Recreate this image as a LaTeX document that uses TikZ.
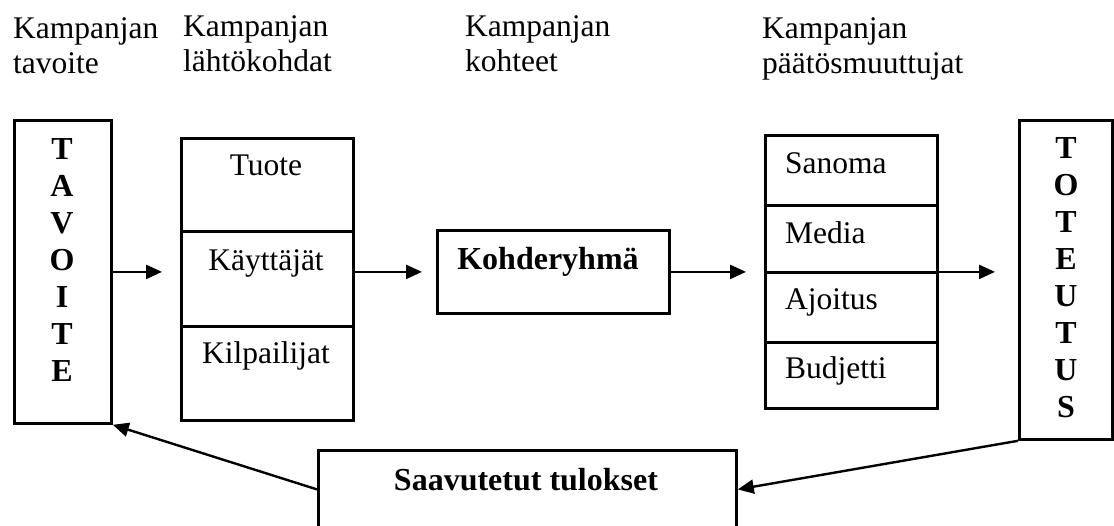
\documentclass[tikz,border=0pt]{standalone}
\usepackage{fontspec}
\setmainfont{Liberation Serif}
\usetikzlibrary{arrows.meta}
\begin{document}
\begin{tikzpicture}[x=1pt,y=-1pt,
  box/.style={draw, line width=2.8pt, inner sep=0pt, anchor=north west},
  txt/.style={inner sep=0pt, anchor=base, font=\fontsize{31.5}{36}\selectfont},
  ltxt/.style={txt, anchor=base west},
  btxt/.style={inner sep=0pt, anchor=base, font=\fontsize{32}{37}\selectfont\bfseries},
  arr/.style={line width=2.4pt, -{Triangle[length=16pt,width=14pt]}}]
\clip (0,0) rectangle (1114,525);
\fill[white] (0,0) rectangle (1114,525);

% column headings
\node[ltxt] (h1a) at (13,38) {Kampanjan};
\node[ltxt] (h1b) at (13,73) {tavoite};
\node[ltxt] (h2a) at (183,36) {Kampanjan};
\node[ltxt] (h2b) at (183,71) {lähtökohdat};
\node[ltxt] (h3a) at (465,36) {Kampanjan};
\node[ltxt] (h3b) at (465,71) {kohteet};
\node[ltxt] (h4a) at (762,38) {Kampanjan};
\node[ltxt] (h4b) at (762,73) {päätösmuuttujat};

% goal column
\node[box, minimum width=97pt, minimum height=303pt] (tavoite) at (13,119) {};
\foreach \l [count=\i from 0] in {T,A,V,O,I,T,E}
  \node[btxt] (tav\i) at (62,159+37*\i) {\l};

% starting points
\node[box, minimum width=172pt, minimum height=93pt] (l1) at (180,137) {};
\node[box, minimum width=172pt, minimum height=95pt] (l2) at (180,230) {};
\node[box, minimum width=172pt, minimum height=94pt] (l3) at (180,325) {};
\node[txt] (tuote) at (266,175) {Tuote};
\node[txt] (kayt) at (266,270) {Käyttäjät};
\node[txt] (kilp) at (266,363) {Kilpailijat};

% target group
\node[box, minimum width=232pt, minimum height=83pt] (kohde) at (436,229) {};
\node[btxt] (kohdet) at (548,269) {Kohderyhmä};

% decision variables
\node[box, minimum width=172pt, minimum height=70pt] (p1) at (764,134) {};
\node[box, minimum width=172pt, minimum height=67pt] (p2) at (764,204) {};
\node[box, minimum width=172pt, minimum height=70pt] (p3) at (764,271) {};
\node[box, minimum width=172pt, minimum height=66pt] (p4) at (764,341) {};
\node[ltxt] (sanoma) at (785,173) {Sanoma};
\node[ltxt] (media) at (785,243) {Media};
\node[ltxt] (ajoitus) at (785,309) {Ajoitus};
\node[ltxt] (budjetti) at (785,378) {Budjetti};

% implementation column
\node[box, minimum width=93pt, minimum height=319pt] (toteutus) at (1018,119) {};
\foreach \l [count=\i from 0] in {T,O,T,E,U,T,U,S}
  \node[btxt] (tot\i) at (1066,158+37*\i) {\l};

% results
\node[box, minimum width=418pt, minimum height=78pt] (tulos) at (317,449) {};
\node[btxt] (tulost) at (526,490) {Saavutetut tulokset};

% flow
\draw[arr, shorten >=18pt] (tavoite.east) -- (tavoite.east -| l2.west);
\draw[arr, shorten >=14pt] (kohde.west -| l2.east) -- (kohde.west);
\draw[arr, shorten >=18pt] (kohde.east) -- (kohde.east -| p1.west);
\draw[arr, shorten >=23pt] (kohde.east -| p1.east) -- (kohde.east -| toteutus.west);
\draw[arr] (toteutus.south west) -- (tulos.east);
\draw[arr] (tulos.west) -- (tavoite.south east);
\end{tikzpicture}
\end{document}
